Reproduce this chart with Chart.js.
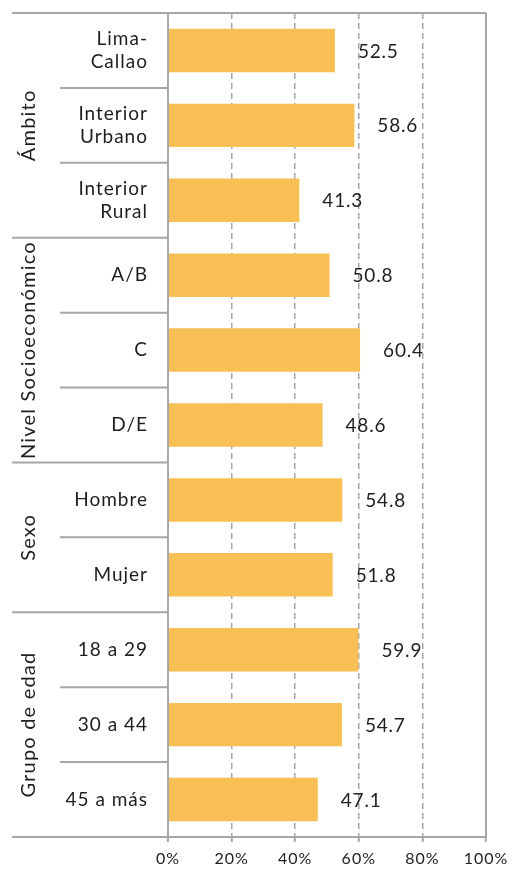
<!DOCTYPE html>
<html><head><meta charset="utf-8">
<script src="https://cdn.jsdelivr.net/npm/chart.js@4/dist/chart.umd.min.js"></script>
<style>html,body{margin:0;padding:0;background:#fff}#wrap{width:513px;height:871px}</style>
</head><body><div id="wrap"><canvas id="c" width="513" height="871"></canvas></div>
<script>
const categories = [["Lima-","Callao"],["Interior","Urbano"],["Interior","Rural"],"A/B","C","D/E","Hombre","Mujer","18 a 29","30 a 44","45 a más"];
const values = [52.5, 58.6, 41.3, 50.8, 60.4, 48.6, 54.8, 51.8, 59.9, 54.7, 47.1];
const groupNames = ["Ámbito","Nivel Socioeconómico","Sexo","Grupo de edad"];
const groupSizes = [3, 3, 2, 3];
const xTicks = [0, 20, 40, 60, 80, 100];

const FONT = "Lato, 'Open Sans', sans-serif";
const LINE = '#a6a6a6';
const TXT = '#1e1e1e';

const spacing = {
  id: 'spacing',
  beforeDraw(chart) { chart.ctx.letterSpacing = '1px'; }
};

const decor = {
  id: 'decor',
  afterDraw(chart) {
    const {ctx, chartArea: a, scales: {x, y}} = chart;
    const n = values.length;
    const bound = i => i < 0 ? a.top : (i >= n - 1 ? a.bottom : (y.getPixelForValue(i) + y.getPixelForValue(i + 1)) / 2);
    const L = 12;
    ctx.save();
    ctx.strokeStyle = LINE; ctx.lineWidth = 2; ctx.setLineDash([]);
    const line = (x1, y1, x2, y2) => { ctx.beginPath(); ctx.moveTo(x1, y1); ctx.lineTo(x2, y2); ctx.stroke(); };
    line(L, a.top, a.right, a.top);
    line(a.right, a.top, a.right, a.bottom);
    line(L, a.bottom, a.right, a.bottom);
    line(a.left, a.top, a.left, a.bottom + 5);
    const groupEnds = [];
    let acc = 0;
    groupSizes.forEach(s => { acc += s; groupEnds.push(acc - 1); });
    for (let i = 0; i < n - 1; i++) {
      const yy = bound(i);
      if (groupEnds.includes(i)) line(L, yy, a.left, yy);
      else line(60, yy, a.left, yy);
    }
    ctx.fillStyle = TXT;
    ctx.letterSpacing = '1.2px';
    ctx.font = "400 20px " + FONT;
    ctx.textAlign = 'center'; ctx.textBaseline = 'middle';
    let start = 0;
    groupNames.forEach((g, gi) => {
      const end = start + groupSizes[gi] - 1;
      const cy = (bound(start - 1) + bound(end)) / 2;
      ctx.save();
      ctx.translate(29, cy);
      ctx.rotate(-Math.PI / 2);
      ctx.fillText(g, 0, 0);
      ctx.restore();
      start = end + 1;
    });
    ctx.letterSpacing = '0.8px';
    ctx.font = "400 19px " + FONT;
    ctx.textAlign = 'left';
    values.forEach((v, i) => {
      ctx.fillText(v.toFixed(1), x.getPixelForValue(v) + 23, y.getPixelForValue(i) + 1);
    });
    ctx.restore();
  }
};

new Chart(document.getElementById('c'), {
  type: 'bar',
  data: {
    labels: categories,
    datasets: [{
      data: values,
      backgroundColor: '#F8BF54',
      borderWidth: 0,
      categoryPercentage: 1,
      barPercentage: 0.58
    }]
  },
  options: {
    indexAxis: 'y',
    responsive: false,
    animation: false,
    layout: { padding: { left: 0, right: 27, top: 13, bottom: 0 } },
    plugins: { legend: { display: false }, tooltip: { enabled: false } },
    scales: {
      x: {
        min: 0, max: 100,
        afterBuildTicks: s => { s.ticks = xTicks.map(v => ({value: v})); },
        afterFit: s => { s.height = 34; s.paddingLeft = 0; s.paddingRight = 0; },
        grid: { color: LINE, lineWidth: 1.5, drawTicks: true, tickLength: 5, tickColor: LINE, tickWidth: 2, tickBorderDash: [] },
        border: { display: false, dash: [6, 4] },
        ticks: { padding: 7, color: '#222', font: { family: FONT, size: 16, weight: 400 }, callback: v => v + '%', maxRotation: 0, autoSkip: false }
      },
      y: {
        afterFit: s => { s.width = 168; s.paddingTop = 0; s.paddingBottom = 0; },
        grid: { display: false, drawTicks: false },
        border: { display: false },
        ticks: { padding: 20, color: TXT, font: { family: FONT, size: 19, weight: 400, lineHeight: 1.2 }, autoSkip: false }
      }
    }
  },
  plugins: [spacing, decor]
});
</script>
</body></html>
